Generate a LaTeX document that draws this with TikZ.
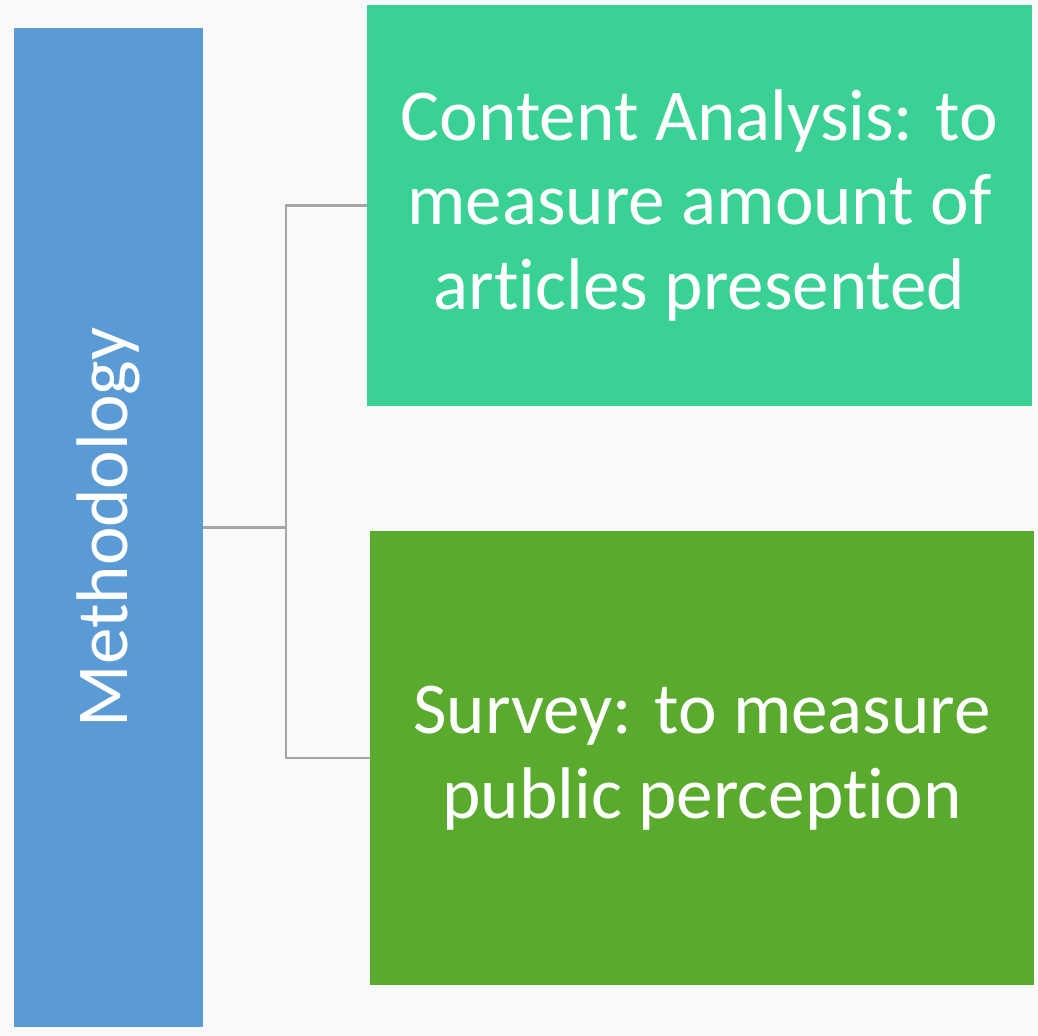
\documentclass[tikz,border=0pt]{standalone}
\usepackage{fontspec}
\setmainfont{Carlito}
\usepackage{xcolor}
\definecolor{methodblue}{HTML}{5B9BD5}
\definecolor{contentgreen}{HTML}{3AD194}
\definecolor{surveygreen}{HTML}{5AAA2E}
\definecolor{linkgray}{HTML}{A6A6A6}
\definecolor{backgray}{HTML}{F9F9F9}
% keep t and i apart (no ligature)
\newcommand{\tnoi}{t\kern0pt i}

\begin{document}
\begin{tikzpicture}[x=0.025cm, y=-0.025cm]

		% Setup the style for the boxes
		\tikzset{box style/.style={rectangle,
				inner sep=0pt,
				text=white,
				align=center,
				font=\fontsize{52}{60}\selectfont},
			link style/.style={draw=linkgray, line width=1.8pt}}

		% Background
		\fill[backgray] (0,0) rectangle (1038,1036);
		\useasboundingbox (0,0) rectangle (1038,1036);

		% Draw the boxes
		\node[box style, fill=methodblue, rotate=90,
			minimum width=24.975cm, minimum height=4.7cm] at (108.5, 527.5) (method) {Methodology};
		\node[box style, fill=contentgreen,
			minimum width=16.625cm, minimum height=10.025cm] at (699.5, 205.5) (content)
			{Content Analysis: to\\ measure amount of\\ ar\tnoi cles presented};
		\node[box style, fill=surveygreen,
			minimum width=16.6cm, minimum height=11.35cm] at (702, 758) (survey)
			{Survey: to measure\\ public percep\tnoi on};

		% Connect the boxes (method.south is its right side, as it is turned)
		\draw[link style] (method.south) -- (286, 527.5) coordinate (fork);
		\draw[link style] (fork) |- (content.west);
		\draw[link style] (fork) |- (survey.west);
\end{tikzpicture}
\end{document}
